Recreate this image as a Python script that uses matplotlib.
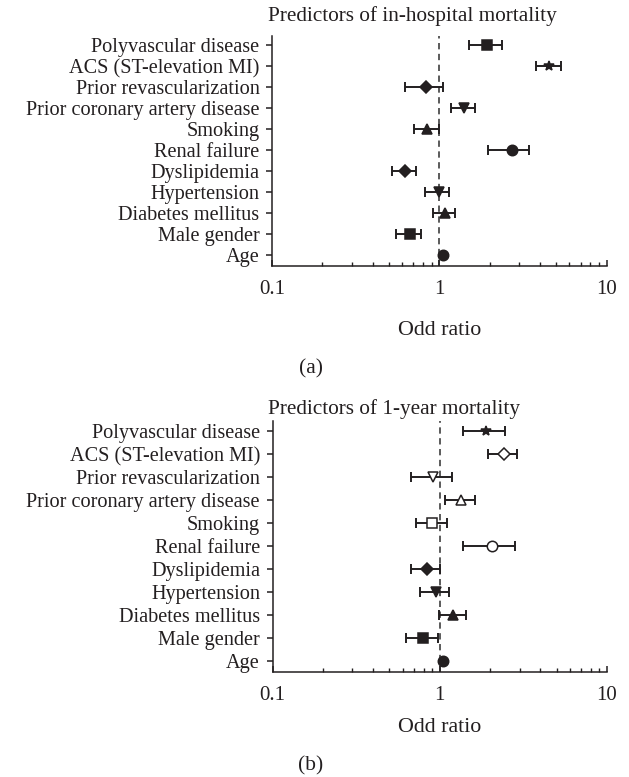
import matplotlib
matplotlib.use("Agg")
import matplotlib.pyplot as plt
from matplotlib.ticker import LogLocator, FixedLocator, NullFormatter

# ---- data ----
labels = ["Polyvascular disease", "ACS (ST-elevation MI)", "Prior revascularization",
          "Prior coronary artery disease", "Smoking", "Renal failure", "Dyslipidemia",
          "Hypertension", "Diabetes mellitus", "Male gender", "Age"]

or_a = [1.94, 4.54, 0.83, 1.40, 0.85, 2.71, 0.62, 0.99, 1.08, 0.67, 1.05]
lo_a = [1.51, 3.79, 0.62, 1.18, 0.71, 1.97, 0.52, 0.82, 0.92, 0.55, 1.05]
hi_a = [2.38, 5.33, 1.05, 1.64, 0.99, 3.46, 0.73, 1.14, 1.25, 0.78, 1.05]
mk_a = ['s', '*', 'D', 'v', '^', 'o', 'D', 'v', '^', 's', 'o']
fill_a = [True] * 11

or_b = [1.89, 2.41, 0.91, 1.34, 0.90, 2.06, 0.84, 0.95, 1.20, 0.79, 1.05]
lo_b = [1.37, 1.94, 0.67, 1.07, 0.72, 1.37, 0.67, 0.76, 0.99, 0.63, 1.05]
hi_b = [2.45, 2.90, 1.18, 1.62, 1.10, 2.83, 1.01, 1.14, 1.44, 0.98, 1.05]
mk_b = ['*', 'D', 'v', '^', 's', 'o', 'D', 'v', '^', 's', 'o']
fill_b = [True, False, False, False, False, False, True, True, True, True, True]

xticks = [0.1, 1, 10]
xtick_labels = ["0.1", "1", "10"]

plt.rcParams['font.family'] = ['Liberation Serif', 'DejaVu Serif']
INK = '#231f20'
W, H = 629, 777
fig = plt.figure(figsize=(W / 100, H / 100), dpi=100)


def px_axes(l, t, r, b):
    return fig.add_axes([l / W, 1 - b / H, (r - l) / W, (b - t) / H])


def forest(ax, vals, lo, hi, mks, fills, ylim):
    n = len(labels)
    ys = list(range(n - 1, -1, -1))
    ax.axvline(1, color='#4d4d4d', lw=1.3, ls=(0, (3.5, 2.5)), zorder=1)
    for y, v, l, h, m, f in zip(ys, vals, lo, hi, mks, fills):
        if h > l:
            ax.errorbar([v], [y], xerr=[[v - l], [h - v]], fmt='none', ecolor=INK,
                        elinewidth=1.4, capsize=3.8, capthick=1.4, zorder=2)
        ms = {'s': 7, '*': 7.5, 'D': 6.5, 'v': 7.5, '^': 7.5, 'o': 7.5}[m]
        ax.plot([v], [y], marker=m, ms=ms, mfc=INK if f else 'white', mec=INK,
                mew=1.1, ls='none', zorder=3)
    ax.set_xscale('log')
    ax.set_xlim(0.1, 10)
    ax.set_ylim(*ylim)
    ax.set_yticks(ys)
    ax.set_yticklabels(labels, fontsize=14.6, color=INK)
    ax.xaxis.set_major_locator(FixedLocator(xticks))
    ax.set_xticklabels(xtick_labels, fontsize=15, color=INK)
    ax.xaxis.set_minor_locator(LogLocator(base=10, subs=range(2, 10)))
    ax.xaxis.set_minor_formatter(NullFormatter())
    for s in ['top', 'right']:
        ax.spines[s].set_visible(False)
    for s in ['left', 'bottom']:
        ax.spines[s].set_linewidth(1.1)
        ax.spines[s].set_color(INK)
    ax.tick_params(axis='y', direction='out', length=4, width=1.1, pad=5, colors=INK)
    ax.tick_params(axis='x', which='major', direction='in', length=4, width=1.1, pad=10, colors=INK)
    ax.tick_params(axis='x', which='minor', direction='in', length=3, width=1.0, colors=INK)


ax1 = px_axes(272, 36, 606.5, 266)
forest(ax1, or_a, lo_a, hi_a, mk_a, fill_a, (-0.52, 10.43))
ax2 = px_axes(272.5, 421, 607, 672)
forest(ax2, or_b, lo_b, hi_b, mk_b, fill_b, (-0.48, 10.43))

def ftext(x, y, s, ha='center', fs=15):
    fig.text(x / W, 1 - y / H, s, ha=ha, va='center', fontsize=fs, color=INK)

ftext(268, 16, "Predictors of in-hospital mortality", ha='left', fs=15.3)
ftext(268, 409, "Predictors of 1-year mortality", ha='left', fs=15.3)
ftext(440, 330, "Odd ratio", fs=15.8)
ftext(440, 727, "Odd ratio", fs=15.8)
ftext(311, 369, "(a)", fs=15.5)
ftext(311, 766, "(b)", fs=15.5)

fig.savefig("out.png", dpi=100)
